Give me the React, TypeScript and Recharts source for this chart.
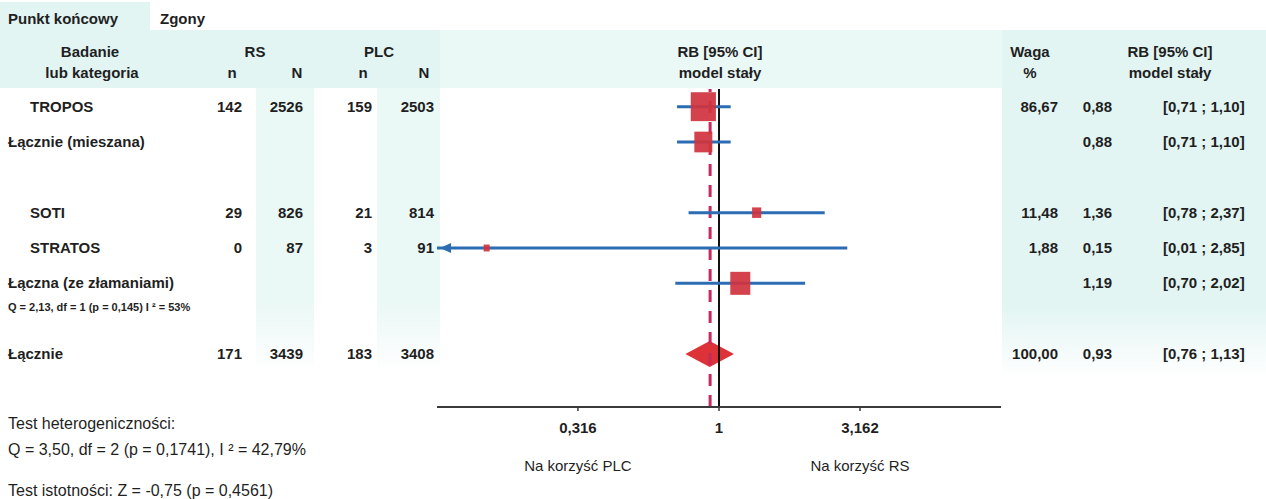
import React from 'react';
import { ScatterChart, Scatter, XAxis, YAxis, ReferenceLine, ReferenceArea } from 'recharts';

// ---------------- DATA ----------------
const rowLabels = ['TROPOS', 'Łącznie (mieszana)', 'SOTI', 'STRATOS', 'Łączna (ze złamaniami)', 'Łącznie'];
const rowPositions = [0, 1, 3, 4, 5, 7];
const rowKinds = ['study', 'subtotal', 'study', 'study', 'subtotal', 'total'];
const rsEvents: (number | null)[] = [142, null, 29, 0, null, 171];
const rsTotals: (number | null)[] = [2526, null, 826, 87, null, 3439];
const plcEvents: (number | null)[] = [159, null, 21, 3, null, 183];
const plcTotals: (number | null)[] = [2503, null, 814, 91, null, 3408];
const weights: (number | null)[] = [86.67, null, 11.48, 1.88, null, 100.0];
const riskRatios = [0.88, 0.88, 1.36, 0.15, 1.19, 0.93];
const ciLower = [0.71, 0.71, 0.78, 0.01, 0.7, 0.76];
const ciUpper = [1.1, 1.1, 2.37, 2.85, 2.02, 1.13];

const subgroupHet = { q: 2.13, df: 1, p: 0.145, i2: 53 };
const overallHet = { q: 3.5, df: 2, p: 0.1741, i2: 42.79 };
const overallTest = { z: -0.75, p: 0.4561 };

const axisDomain = [0.1, 10];
const axisTicks = [0.316, 1, 3.162];
const favourLabels = ['Na korzyść PLC', '', 'Na korzyść RS'];

// ---------------- STYLE ----------------
const FONT = '"Liberation Sans", Arial, Helvetica, sans-serif';
const TEXT = '#1f1f1f';
const RED = '#d0333e';
const BLUE = '#2b6cb3';
const DASH = '#c7295c';
const CYAN = '#e2f5f3';
const CYAN_LIGHT = '#eaf8f6';
const subtotalBox = [0, 18, 0, 0, 20, 0];

const pl = (v: number, d: number) => v.toFixed(d).replace('.', ',');

const markerData = rowPositions
  .map((row, i) => ({ x: riskRatios[i], row, i }))
  .filter((d) => rowKinds[d.i] !== 'total');

const arrowData = rowPositions
  .map((row, i) => ({ x: axisDomain[0], row, i }))
  .filter((d) => ciLower[d.i] < axisDomain[0]);

const totalIdx = rowKinds.indexOf('total');

const renderMarker = (props: any) => {
  const { cx, cy, payload } = props;
  const i = payload.i;
  let w: number;
  if (rowKinds[i] === 'study') {
    w = Math.max(6, 2.7 * Math.sqrt(weights[i] as number));
  } else {
    w = subtotalBox[i];
  }
  const h = w * 1.15;
  return <rect x={cx - w / 2} y={cy - h / 2} width={w} height={h} fill={RED} fillOpacity={0.92} />;
};

const renderArrow = (props: any) => {
  const { cx, cy } = props;
  return <polygon points={`${cx + 3},${cy} ${cx + 14},${cy - 5} ${cx + 14},${cy + 5}`} fill={BLUE} />;
};

const renderDiamond = (props: any) => {
  const { x, y, width, height } = props;
  const mx = x + width / 2;
  const my = y + height / 2;
  return (
    <polygon
      points={`${x},${my} ${mx},${y} ${x + width},${my} ${mx},${y + height}`}
      fill="#dd3238"
    />
  );
};

const RowTick = (props: any) => {
  const { y, payload } = props;
  const i = rowPositions.indexOf(payload.value);
  if (i < 0) return <g />;
  const kind = rowKinds[i];
  const cy = y + 5;
  const base = { fontFamily: FONT, fontSize: 15, fontWeight: 700, fill: TEXT } as any;
  const num = (v: number | null, x: number) =>
    v === null ? null : (
      <text x={x} y={cy} textAnchor="end" {...base}>
        {v}
      </text>
    );
  return (
    <g>
      <text x={kind === 'study' ? 30 : 8} y={cy} {...base}>
        {rowLabels[i]}
      </text>
      {num(rsEvents[i], 242)}
      {num(rsTotals[i], 303)}
      {num(plcEvents[i], 372)}
      {num(plcTotals[i], 434)}
      {weights[i] !== null && (
        <text x={1058} y={cy} textAnchor="end" {...base}>
          {pl(weights[i] as number, 2)}
        </text>
      )}
      <text x={1112} y={cy} textAnchor="end" {...base}>
        {pl(riskRatios[i], 2)}
      </text>
      <text x={1163} y={cy} {...base}>
        {`[${pl(ciLower[i], 2)} ; ${pl(ciUpper[i], 2)}]`}
      </text>
      {rowLabels[i] === 'Łączna (ze złamaniami)' && (
        <text x={8} y={cy + 23} fontFamily={FONT} fontSize={11} fontWeight={700} fill={TEXT}>
          {`Q = ${pl(subgroupHet.q, 2)}, df = ${subgroupHet.df} (p = ${pl(subgroupHet.p, 3)}) I ² = ${subgroupHet.i2}%`}
        </text>
      )}
    </g>
  );
};

const AxisTick = (props: any) => {
  const { x, payload } = props;
  const i = axisTicks.indexOf(payload.value);
  const label = payload.value === 1 ? '1' : String(payload.value).replace('.', ',');
  return (
    <g>
      <text x={x} y={433} textAnchor="middle" fontFamily={FONT} fontSize={15} fontWeight={700} fill={TEXT}>
        {label}
      </text>
      {i >= 0 && favourLabels[i] && (
        <text x={x} y={471} textAnchor="middle" fontFamily={FONT} fontSize={15} fill={TEXT}>
          {favourLabels[i]}
        </text>
      )}
    </g>
  );
};

const bands = [
  { left: 0, top: 2, width: 150, height: 30, color: CYAN },
  { left: 0, top: 30, width: 440, height: 58, color: CYAN },
  { left: 440, top: 30, width: 562, height: 58, color: CYAN_LIGHT },
  { left: 1002, top: 30, width: 264, height: 58, color: CYAN },
  { left: 256, top: 88, width: 58, height: 285, color: CYAN_LIGHT, fade: true },
  { left: 377, top: 88, width: 63, height: 285, color: CYAN_LIGHT, fade: true },
  { left: 1002, top: 88, width: 264, height: 290, color: CYAN, fade: true },
];

export default function App() {
  const hdr = { fontFamily: FONT, fontSize: 15, fontWeight: 700, fill: TEXT } as any;
  const foot = { fontFamily: FONT, fontSize: 16, fill: TEXT } as any;
  return (
    <div style={{ position: 'absolute', left: 0, top: 0, width: 1266, height: 499, background: '#fff', overflow: 'hidden' }}>
      {bands.map((b, k) => (
        <div
          key={k}
          style={{
            position: 'absolute',
            left: b.left,
            top: b.top,
            width: b.width,
            height: b.height,
            background: b.fade
              ? `linear-gradient(to bottom, ${b.color} 0%, ${b.color} 75%, rgba(255,255,255,0) 100%)`
              : b.color,
          }}
        />
      ))}
      <div style={{ position: 'absolute', left: 0, top: 0 }}>
        <ScatterChart width={1266} height={499} margin={{ top: 89, right: 265, bottom: 0, left: 0 }}>
          <XAxis
            type="number"
            dataKey="x"
            scale="log"
            domain={axisDomain}
            allowDataOverflow
            ticks={axisTicks}
            interval={0}
            height={92}
            axisLine={{ stroke: '#3a3a3a', strokeWidth: 2 }}
            tickLine={{ stroke: '#3a3a3a', strokeWidth: 1.5 }}
            tickSize={4}
            tick={(p: any) => <AxisTick {...p} />}
          />
          <YAxis
            type="number"
            dataKey="row"
            domain={[-0.5, 8.5]}
            reversed
            ticks={rowPositions}
            interval={0}
            width={437}
            axisLine={false}
            tickLine={false}
            tick={(p: any) => <RowTick {...p} />}
          />
          <ReferenceLine x={riskRatios[totalIdx]} stroke={DASH} strokeWidth={3} strokeDasharray="12 9" />
          <ReferenceLine x={1} stroke="#111" strokeWidth={2} />
          <ReferenceArea
            x1={ciLower[totalIdx]}
            x2={ciUpper[totalIdx]}
            y1={rowPositions[totalIdx] - 0.37}
            y2={rowPositions[totalIdx] + 0.37}
            shape={renderDiamond}
            ifOverflow="visible"
          />
          <Scatter data={markerData} shape={renderMarker} isAnimationActive={false} />
          {rowPositions.map((row, i) =>
            rowKinds[i] === 'total' ? null : (
              <ReferenceLine
                key={'ci' + i}
                segment={[
                  { x: Math.max(ciLower[i], axisDomain[0]), y: row },
                  { x: Math.min(ciUpper[i], axisDomain[1]), y: row },
                ]}
                stroke={BLUE}
                strokeWidth={3}
                ifOverflow="visible"
              />
            )
          )}
          <Scatter data={arrowData} shape={renderArrow} isAnimationActive={false} />
        </ScatterChart>
      </div>
      <svg width={1266} height={499} style={{ position: 'absolute', left: 0, top: 0, pointerEvents: 'none' }}>
        <text x={8} y={24} {...hdr}>Punkt końcowy</text>
        <text x={160} y={24} {...hdr}>Zgony</text>
        <text x={90} y={57} textAnchor="middle" {...hdr}>Badanie</text>
        <text x={92} y={78} textAnchor="middle" {...hdr}>lub kategoria</text>
        <text x={255} y={57} textAnchor="middle" {...hdr}>RS</text>
        <text x={379} y={57} textAnchor="middle" {...hdr}>PLC</text>
        <text x={232} y={78} textAnchor="middle" {...hdr}>n</text>
        <text x={297} y={78} textAnchor="middle" {...hdr}>N</text>
        <text x={363} y={78} textAnchor="middle" {...hdr}>n</text>
        <text x={424} y={78} textAnchor="middle" {...hdr}>N</text>
        <text x={720} y={57} textAnchor="middle" {...hdr}>RB [95% CI]</text>
        <text x={720} y={78} textAnchor="middle" {...hdr}>model stały</text>
        <text x={1030} y={57} textAnchor="middle" {...hdr}>Waga</text>
        <text x={1030} y={78} textAnchor="middle" {...hdr}>%</text>
        <text x={1170} y={57} textAnchor="middle" {...hdr}>RB [95% CI]</text>
        <text x={1170} y={78} textAnchor="middle" {...hdr}>model stały</text>
        <text x={8} y={429} {...foot}>Test heterogeniczności:</text>
        <text x={8} y={455} {...foot}>
          {`Q = ${pl(overallHet.q, 2)}, df = ${overallHet.df} (p = ${pl(overallHet.p, 4)}), I ²  = ${pl(overallHet.i2, 2)}%`}
        </text>
        <text x={8} y={496} {...foot}>
          {`Test istotności: Z = ${pl(overallTest.z, 2)} (p = ${pl(overallTest.p, 4)})`}
        </text>
      </svg>
    </div>
  );
}
